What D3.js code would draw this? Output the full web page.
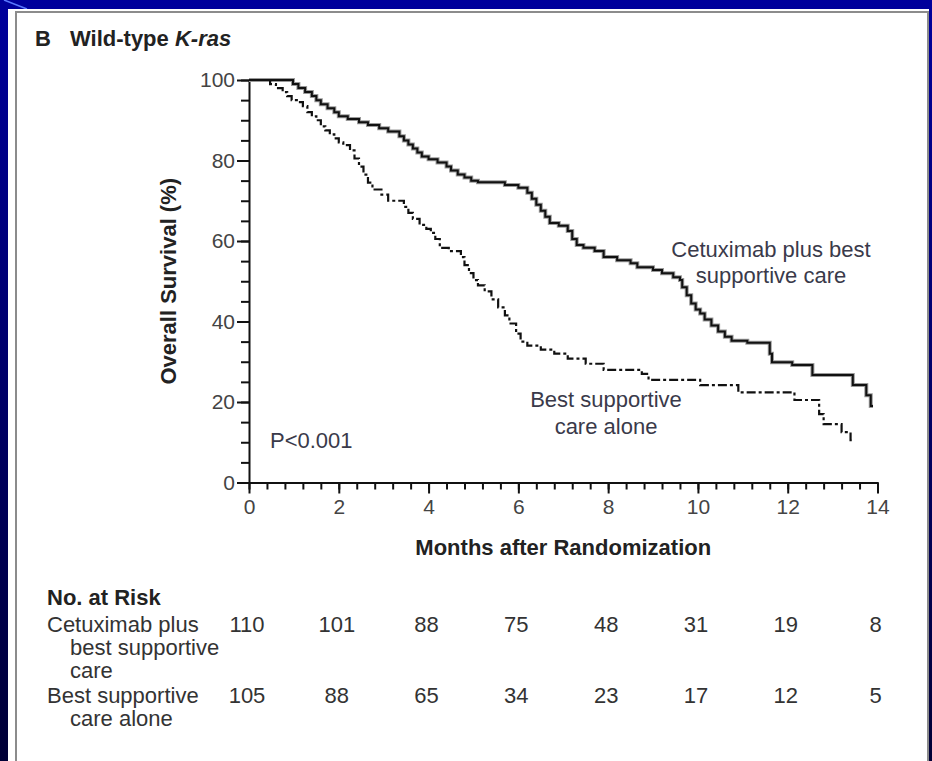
<!DOCTYPE html>
<html>
<head>
<meta charset="utf-8">
<script src="https://d3js.org/d3.v7.min.js"></script>
<style>
body { margin: 0; background: #000080; }
svg { display: block; }
text { font-family: "Liberation Sans", Arial, sans-serif; }
</style>
</head>
<body>
<div id="chart"></div>
<script>
/* Kaplan-Meier steps: [month, survival %] */
var cetuximabCurve = [
    [0, 100], [0.98, 99], [1.1, 98], [1.25, 97], [1.4, 96], [1.5, 95], [1.6, 94],
    [1.75, 93], [1.9, 92], [2.0, 91], [2.2, 90.3], [2.45, 89.5], [2.65, 88.8],
    [2.9, 88], [3.1, 87.2], [3.35, 86], [3.45, 85], [3.55, 84], [3.65, 83],
    [3.75, 82], [3.85, 81], [4.0, 80.3], [4.2, 79.5], [4.4, 78.5], [4.5, 77.5],
    [4.65, 76.5], [4.8, 75.8], [4.95, 75], [5.1, 74.6], [5.7, 73.9], [6.0, 73.2],
    [6.2, 72], [6.3, 70.5], [6.4, 69], [6.5, 67.5], [6.6, 66], [6.7, 64.5],
    [6.9, 63.8], [7.1, 62.5], [7.2, 60.5], [7.3, 59], [7.45, 58.3], [7.7, 57.5],
    [7.9, 56], [8.2, 55.2], [8.5, 54.5], [8.65, 53.5], [9.0, 52.8], [9.2, 52],
    [9.45, 51], [9.6, 50.3], [9.65, 48.5], [9.75, 46.5], [9.85, 44.5], [9.95, 43],
    [10.05, 42], [10.15, 40.5], [10.3, 39], [10.45, 37.5], [10.6, 36.2],
    [10.75, 35.2], [11.1, 34.7], [11.6, 32], [11.65, 29.9], [12.1, 29.2],
    [12.55, 26.7], [13.45, 24.2], [13.75, 21.7], [13.85, 19]
];
var cetuximabEnd = 13.9;

var bscCurve = [
    [0, 100], [0.47, 99], [0.6, 98], [0.75, 97], [0.85, 96], [0.95, 95],
    [1.1, 94.5], [1.2, 93.5], [1.3, 92], [1.4, 91], [1.5, 90], [1.6, 88.5],
    [1.7, 87.5], [1.8, 86.5], [1.9, 85.5], [2.0, 84.5], [2.1, 83.8], [2.25, 82.5],
    [2.35, 80.5], [2.45, 78.5], [2.55, 76.5], [2.65, 74.5], [2.75, 72.8],
    [2.95, 71.5], [3.1, 70], [3.45, 68.5], [3.55, 67], [3.65, 65.5], [3.8, 64],
    [3.95, 63], [4.05, 62], [4.15, 60.5], [4.25, 58.3], [4.45, 57.5], [4.72, 56],
    [4.8, 54], [4.9, 52], [5.0, 50.3], [5.1, 49], [5.25, 47.5], [5.4, 45.5],
    [5.55, 43.5], [5.7, 41.5], [5.8, 39.5], [5.95, 37], [6.05, 35], [6.2, 34],
    [6.5, 33], [6.8, 32], [7.1, 30.8], [7.5, 29.5], [7.9, 28], [8.75, 27],
    [8.9, 25.5], [10.05, 24.2], [10.9, 22.4], [12.15, 20.5], [12.7, 17],
    [12.8, 14.5], [13.2, 12.5], [13.4, 10.5]
];
var bscEnd = 13.45;

var xTicks = [0, 2, 4, 6, 8, 10, 12, 14];
var yTicks = [0, 20, 40, 60, 80, 100];

var riskTimes = [0, 2, 4, 6, 8, 10, 12, 14];
var riskCetuximab = [110, 101, 88, 75, 48, 31, 19, 8];
var riskBsc = [105, 88, 65, 34, 23, 17, 12, 5];

var W = 932, H = 761;

var svg = d3.select("#chart").append("svg")
    .attr("width", W)
    .attr("height", H);

/* slide background */
var defs = svg.append("defs");
var grad = defs.append("linearGradient")
    .attr("id", "bg")
    .attr("x1", 0).attr("y1", 0).attr("x2", 0).attr("y2", 1);
grad.append("stop").attr("offset", "0%").attr("stop-color", "#00009c");
grad.append("stop").attr("offset", "100%").attr("stop-color", "#000036");

svg.append("rect")
    .attr("width", W).attr("height", H)
    .attr("fill", "url(#bg)");

svg.append("line")
    .attr("x1", 4).attr("y1", 0)
    .attr("x2", 27).attr("y2", 9)
    .attr("stroke", "#5a78ff")
    .attr("stroke-width", 1.5);

/* white panel with grey frame */
svg.append("rect")
    .attr("x", 8).attr("y", 9)
    .attr("width", 921).attr("height", H - 9)
    .attr("fill", "white");

svg.append("path")
    .attr("d", "M16," + H + "V12H928V" + H)
    .attr("fill", "none")
    .attr("stroke", "#8c8c8c")
    .attr("stroke-width", 2);

/* title */
var title = svg.append("text")
    .attr("x", 35).attr("y", 46)
    .attr("font-size", "22px")
    .attr("font-weight", "bold")
    .attr("fill", "#222");
title.append("tspan").text("B");
title.append("tspan").attr("x", 70).text("Wild-type ");
title.append("tspan").attr("font-style", "italic").text("K-ras");

/* scales */
var x = d3.scaleLinear().domain([0, 14]).range([249, 877.5]);
var y = d3.scaleLinear().domain([0, 100]).range([482.5, 80]);

/* x axis: minor ticks every 0.4 month, major every 2 */
var xMinor = d3.range(0, 14.001, 0.4);
var gxMinor = svg.append("g")
    .attr("transform", "translate(0," + y(0) + ")")
    .call(d3.axisBottom(x).tickValues(xMinor).tickSize(7).tickSizeOuter(0).tickFormat(""));
gxMinor.select(".domain").remove();

var gx = svg.append("g")
    .attr("transform", "translate(0," + y(0) + ")")
    .call(d3.axisBottom(x).tickValues(xTicks).tickSize(11).tickSizeOuter(0).tickPadding(6));

/* y axis: minor ticks every 5, major every 20 */
var yMinor = d3.range(0, 100.001, 5);
var gyMinor = svg.append("g")
    .attr("transform", "translate(" + x(0) + ",0)")
    .call(d3.axisLeft(y).tickValues(yMinor).tickSize(8).tickSizeOuter(0).tickFormat(""));
gyMinor.select(".domain").remove();

var gy = svg.append("g")
    .attr("transform", "translate(" + x(0) + ",0)")
    .call(d3.axisLeft(y).tickValues(yTicks).tickSize(12).tickSizeOuter(0).tickPadding(2));

svg.selectAll(".domain, .tick line")
    .attr("stroke", "#111")
    .attr("stroke-width", 2);

gx.selectAll(".tick text")
    .attr("font-family", "Liberation Sans, Arial, sans-serif")
    .attr("font-size", "21px")
    .attr("fill", "#444");
gy.selectAll(".tick text")
    .attr("font-family", "Liberation Sans, Arial, sans-serif")
    .attr("font-size", "21px")
    .attr("fill", "#444");

/* axis titles */
svg.append("text")
    .attr("transform", "translate(176," + ((y(0) + y(100)) / 2) + ") rotate(-90)")
    .attr("text-anchor", "middle")
    .attr("font-size", "22px")
    .attr("font-weight", "bold")
    .attr("fill", "#222")
    .text("Overall Survival (%)");

svg.append("text")
    .attr("x", (x(0) + x(14)) / 2)
    .attr("y", 555)
    .attr("text-anchor", "middle")
    .attr("font-size", "22px")
    .attr("font-weight", "bold")
    .attr("fill", "#222")
    .text("Months after Randomization");

/* survival curves */
var step = d3.line()
    .x(d => x(d[0]))
    .y(d => y(d[1]))
    .curve(d3.curveStepAfter);

var cetuximabPath = cetuximabCurve.concat([[cetuximabEnd, cetuximabCurve[cetuximabCurve.length - 1][1]]]);
var bscPath = bscCurve.concat([[bscEnd, bscCurve[bscCurve.length - 1][1]]]);

svg.append("path")
    .datum(cetuximabPath)
    .attr("d", step)
    .attr("fill", "none")
    .attr("stroke", "#9a9a9a")
    .attr("stroke-width", 4);

svg.append("path")
    .datum(cetuximabPath)
    .attr("d", step)
    .attr("fill", "none")
    .attr("stroke", "#111")
    .attr("stroke-width", 2);

svg.append("path")
    .datum(bscPath)
    .attr("d", step)
    .attr("fill", "none")
    .attr("stroke", "#111")
    .attr("stroke-width", 2.2)
    .attr("stroke-dasharray", "9,3,3,3");

/* annotations */
function label(lines, cx, y0, dy) {
    lines.forEach(function(s, i) {
        svg.append("text")
            .attr("x", cx)
            .attr("y", y0 + i * dy)
            .attr("text-anchor", "middle")
            .attr("font-size", "22px")
            .attr("fill", "#3a3a4a")
            .text(s);
    });
}
label(["Cetuximab plus best", "supportive care"], 771, 257, 26);
label(["Best supportive", "care alone"], 606, 407, 27);

svg.append("text")
    .attr("x", 270).attr("y", 448)
    .attr("font-size", "22px")
    .attr("fill", "#3a3a4a")
    .text("P<0.001");

/* number at risk table */
svg.append("text")
    .attr("x", 47).attr("y", 605)
    .attr("font-size", "22px")
    .attr("font-weight", "bold")
    .attr("fill", "#222")
    .text("No. at Risk");

var rowLabels = [
    {t: "Cetuximab plus", x: 47, y: 632},
    {t: "best supportive", x: 70, y: 655},
    {t: "care", x: 70, y: 678},
    {t: "Best supportive", x: 47, y: 703},
    {t: "care alone", x: 70, y: 726}
];
rowLabels.forEach(function(r) {
    svg.append("text")
        .attr("x", r.x).attr("y", r.y)
        .attr("font-size", "22px")
        .attr("fill", "#333")
        .text(r.t);
});

function riskRow(values, yy) {
    svg.append("g").selectAll("text")
        .data(values)
        .join("text")
        .attr("x", (d, i) => x(riskTimes[i]) - 2)
        .attr("y", yy)
        .attr("text-anchor", "middle")
        .attr("font-size", "22px")
        .attr("fill", "#333")
        .text(d => d);
}
riskRow(riskCetuximab, 632);
riskRow(riskBsc, 703);
</script>
</body>
</html>
